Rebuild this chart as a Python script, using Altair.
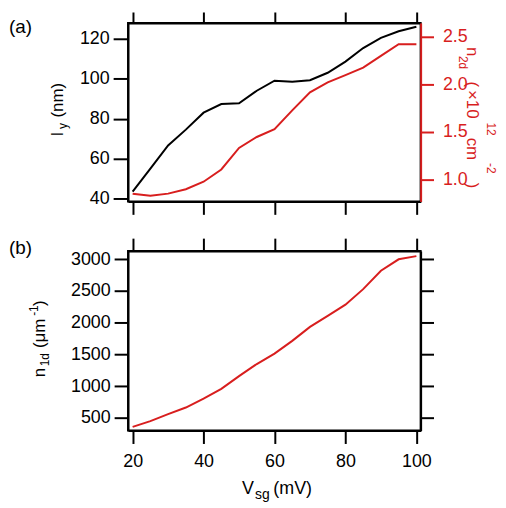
import altair as alt
import pandas as pd

# ---- data ----
v_sg = [20, 25, 30, 35, 40, 45, 50, 55, 60, 65, 70, 75, 80, 85, 90, 95, 100]
l_y = [43.4, 55.0, 66.6, 74.5, 83.0, 87.3, 87.7, 94.0, 99.0, 98.5, 99.3, 103.0, 108.6, 115.4, 120.5, 123.8, 126.1]
n_2d = [0.85, 0.827, 0.85, 0.896, 0.975, 1.104, 1.33, 1.445, 1.528, 1.725, 1.914, 2.018, 2.094, 2.174, 2.296, 2.42, 2.42]
n_1d = [360, 450, 560, 665, 805, 960, 1160, 1350, 1515, 1715, 1935, 2110, 2285, 2530, 2820, 3000, 3050]

x_ticks = [20, 40, 60, 80, 100]
ly_ticks = [40, 60, 80, 100, 120]
n2d_ticks = [1.0, 1.5, 2.0, 2.5]
n1d_ticks = [500, 1000, 1500, 2000, 2500, 3000]

RED = "#d81e1e"
FONT = "Liberation Sans"
W, H1, H2 = 295, 180, 181

df = pd.DataFrame({"V": v_sg, "ly": l_y, "n2d": n_2d, "n1d": n_1d})
xscale = alt.Scale(domain=[18.7, 101.2], nice=False, zero=False)


def ax(orient, values, tick, color="black", labels=True, pad=4, fmt=None):
    kw = dict(orient=orient, values=values, tickSize=tick, tickWidth=2, tickColor=color,
              domain=True, domainWidth=2, domainColor=color, labels=labels, title=None,
              grid=False, labelFont=FONT, labelFontSize=18, labelColor=color,
              labelPadding=pad)
    if fmt:
        kw["format"] = fmt
    return alt.Axis(**kw)


one = pd.DataFrame({"k": [0]})


def txt(s, x, y, size=17, angle=0, color="black", align="center"):
    return alt.Chart(one).mark_text(
        text=s, font=FONT, fontSize=size, angle=angle, color=color,
        align=align, baseline="alphabetic"
    ).encode(x=alt.value(x), y=alt.value(y))


# ---- panel (a) ----
black = alt.Chart(df).mark_line(color="black", strokeWidth=2).encode(
    x=alt.X("V:Q", scale=xscale, axis=ax("bottom", x_ticks, 13, labels=False)),
    y=alt.Y("ly:Q", scale=alt.Scale(domain=[38.5, 128], nice=False, zero=False),
            axis=ax("left", ly_ticks, 15, fmt="d")),
)
red = alt.Chart(df).mark_line(color=RED, strokeWidth=2).encode(
    x=alt.X("V:Q", scale=xscale, axis=ax("top", x_ticks, 11, labels=False)),
    y=alt.Y("n2d:Q", scale=alt.Scale(domain=[0.768, 2.643], nice=False, zero=False),
            axis=ax("right", n2d_ticks, 13, color=RED, pad=9, fmt=".1f")),
)

ox, oy = 128, 19
a_texts = [
    txt("(a)", 8 - ox, 29 - oy, size=19, align="left"),
    # left title: l_y (nm)
    txt("l", 62 - ox, 131 - oy, angle=270),
    txt("y", 66 - ox, 123 - oy, size=12, angle=270),
    txt("(nm)", 62 - ox, 97 - oy, angle=270),
    # right title: n_2d (x10^12 cm^-2)
    txt("n", 470 - ox, 48 - oy, angle=90, color=RED),
    txt("2d", 462 - ox, 59 - oy, size=12, angle=90, color=RED),
    txt("(", 470 - ox, 81 - oy, angle=90, color=RED),
    txt("×", 470 - ox, 91.5 - oy, angle=90, color=RED),
    txt("10", 470 - ox, 106 - oy, angle=90, color=RED),
    txt("12", 490 - ox, 126 - oy, size=12, angle=90, color=RED),
    txt("cm", 470 - ox, 146 - oy, angle=90, color=RED),
    txt("-2", 490 - ox, 165.5 - oy, size=12, angle=90, color=RED),
    txt(")", 470 - ox, 183 - oy, angle=90, color=RED),
]

top = alt.layer(black, red, *a_texts).resolve_scale(y="independent").resolve_axis(
    x="independent", y="independent").properties(width=W, height=H1)

# ---- panel (b) ----
line_b = alt.Chart(df).mark_line(color=RED, strokeWidth=2).encode(
    x=alt.X("V:Q", scale=xscale, axis=ax("bottom", x_ticks, 13, pad=9, fmt="d")),
    y=alt.Y("n1d:Q", scale=alt.Scale(domain=[302, 3130], nice=False, zero=False),
            axis=ax("left", n1d_ticks, 14, fmt="d")),
)
frame_b = alt.Chart(df).mark_line(opacity=0).encode(
    x=alt.X("V:Q", scale=xscale, axis=ax("top", x_ticks, 13, labels=False)),
    y=alt.Y("n1d:Q", scale=alt.Scale(domain=[302, 3130], nice=False, zero=False),
            axis=ax("right", n1d_ticks, 13, labels=False)),
)

bx, by = 128, 245
b_texts = [
    txt("(b)", 8 - bx, 248 - by, size=19, align="left"),
    # left title: n_1d (um^-1)
    txt("n", 44 - bx, 367.5 - by, angle=270),
    txt("1d", 48 - bx, 354.5 - by, size=12, angle=270),
    txt("(μm", 44 - bx, 328 - by, angle=270),
    txt("-1", 37 - bx, 305 - by, size=12, angle=270),
    txt(")", 44 - bx, 297.5 - by, angle=270),
    # x title: V_sg (mV)
    txt("V", 249 - bx, 490 - by, size=18),
    txt("sg", 263.5 - bx, 495 - by, size=14),
    txt("(mV)", 294 - bx, 490 - by, size=18),
]

bottom = alt.layer(line_b, frame_b, *b_texts).resolve_axis(
    x="independent", y="independent").properties(width=W, height=H2)

chart = alt.vconcat(top, bottom, spacing=20).properties(
    padding=0, background="white"
).configure_view(stroke="black", strokeWidth=2)

chart.save("out.html", embed_options={"renderer": "svg", "actions": False})
